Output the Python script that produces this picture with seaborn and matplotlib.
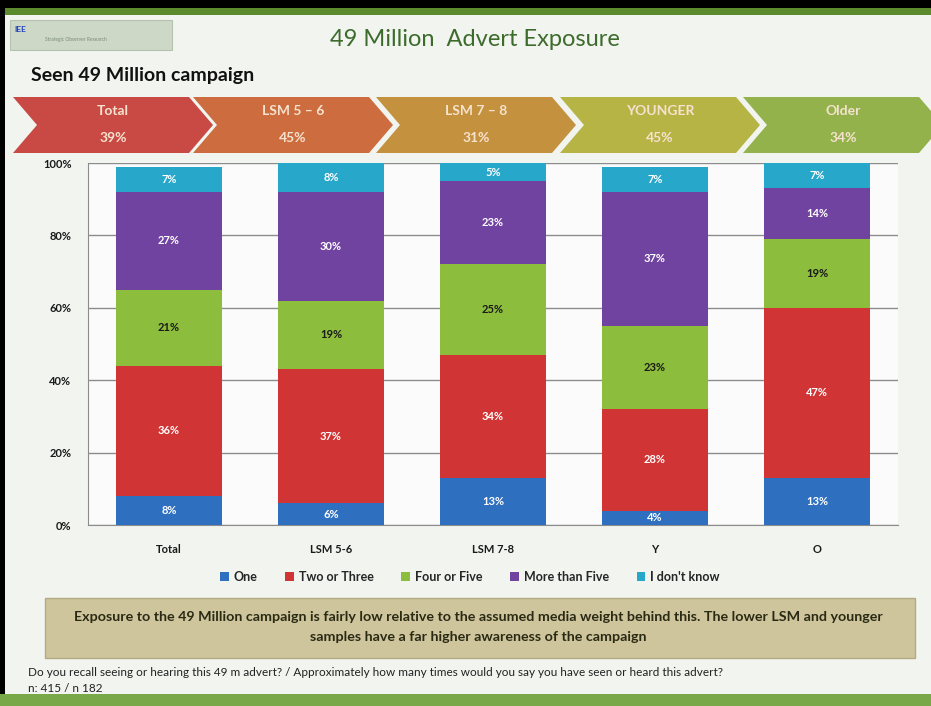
import numpy as np
import pandas as pd
import matplotlib.pyplot as plt
from matplotlib.patches import Polygon, Rectangle, Patch
import seaborn as sns

# data
groups = ['Total', 'LSM 5-6', 'LSM 7-8', 'Y', 'O']
series = ['One', 'Two or Three', 'Four or Five', 'More than Five', "I don't know"]
one = [8, 6, 13, 4, 13]
two_three = [36, 37, 34, 28, 47]
four_five = [21, 19, 25, 23, 19]
more_five = [27, 30, 23, 37, 14]
dont_know = [7, 8, 5, 7, 7]

header_labels = ['Total', 'LSM 5 – 6', 'LSM 7 – 8', 'YOUNGER', 'Older']
header_pct = ['39%', '45%', '31%', '45%', '34%']

colors = ['#2e6fc0', '#d13434', '#8cbd3c', '#7143a0', '#27a7c9']
label_colors = ['white', 'white', '#1a1a1a', 'white', 'white']
chevron_colors = ['#c94a45', '#cd6d3f', '#c4913f', '#b6b445', '#93b24b']

sns.set_style('white')
plt.rcParams['font.family'] = ['Lato', 'DejaVu Sans']

df = pd.DataFrame(dict(zip(series, [one, two_three, four_five, more_five, dont_know])), index=groups)
cum = df.cumsum(axis=1)
long = df.reset_index(names='group').melt(id_vars='group', var_name='series', value_name='value')
long['top'] = cum.reset_index(names='group').melt(id_vars='group', value_name='top')['top']
long['bottom'] = long['top'] - long['value']

W, H = 931, 706
fig = plt.figure(figsize=(W / 100, H / 100), dpi=100, facecolor='#f2f4f0')

# background layer in pixel coordinates
bg = fig.add_axes([0, 0, 1, 1], zorder=0)
bg.set_xlim(0, W)
bg.set_ylim(H, 0)
bg.axis('off')
bg.add_patch(Rectangle((0, 0), W, 8, fc='black', ec='none'))
bg.add_patch(Rectangle((0, 8), W, 7, fc='#5b8b2c', ec='none'))
bg.add_patch(Rectangle((0, 0), 5, H, fc='black', ec='none'))
bg.add_patch(Rectangle((0, 694), W, 12, fc='#78a847', ec='none'))
bg.add_patch(Rectangle((10, 20), 162, 30, fc='#cdd8c6', ec='#b5c2ad', lw=0.8))
bg.text(14, 29, 'IEE', color='#2040c0', fontsize=6, fontweight='bold', va='center')
bg.text(45, 40, 'Strategic Observer Research', color='#7a8a78', fontsize=3.5, va='center')

bg.text(475, 40, '49 Million  Advert Exposure', color='#3d6b2c', fontsize=17,
        ha='center', va='center')
bg.text(31, 75, 'Seen 49 Million campaign', color='#111111', fontsize=14,
        fontweight='bold', va='center')

# chevron header
starts = [13, 193, 376, 560, 743]
w, d, y0, y1 = 176, 24, 97, 153
ym = (y0 + y1) / 2
for x0, c, lab, pct in zip(starts, chevron_colors, header_labels, header_pct):
    pts = [(x0, y0), (x0 + w, y0), (x0 + w + d, ym), (x0 + w, y1), (x0, y1), (x0 + d, ym)]
    bg.add_patch(Polygon(pts, closed=True, fc=c, ec='none'))
    cx = x0 + d / 2 + w / 2
    bg.text(cx, 111, lab, color='#f6e2cf', fontsize=10, fontweight='bold', ha='center', va='center')
    bg.text(cx, 138, pct, color='#f6e2cf', fontsize=10, fontweight='bold', ha='center', va='center')

# stacked bar chart
ax = fig.add_axes([88 / W, 1 - 525 / H, 810 / W, 362 / H], zorder=2)
ax.set_facecolor('#fbfbfb')
for s, c in list(zip(series, colors))[::-1]:
    sub = long[long['series'] == s]
    sns.barplot(data=sub, x='group', y='top', order=groups, color=c, saturation=1,
                width=0.66, errorbar=None, linewidth=0, ax=ax, zorder=3)

for s, tc in zip(series, label_colors):
    sub = long[long['series'] == s]
    for _, r in sub.iterrows():
        ax.text(groups.index(r['group']), r['bottom'] + r['value'] / 2, f"{r['value']}%",
                color=tc, fontsize=8, fontweight='bold', ha='center', va='center', zorder=4)

ax.set_xlim(-0.5, len(groups) - 0.5)
ax.set_ylim(0, 100)
ax.set_yticks(range(0, 101, 20))
ax.set_yticklabels([f'{v}%' for v in range(0, 101, 20)])
ax.set_xticks(np.arange(len(groups) + 1) - 0.5, minor=True)
ax.yaxis.grid(True, color='#8c8c8c', lw=1, zorder=0)
ax.set_axisbelow(True)
ax.set_xlabel('')
ax.set_ylabel('')
for side in ['top', 'right']:
    ax.spines[side].set_visible(False)
for side in ['left', 'bottom']:
    ax.spines[side].set_color('#8c8c8c')
ax.tick_params(axis='x', which='major', length=0, pad=14, labelsize=8, colors='#1a1a1a')
ax.tick_params(axis='x', which='minor', length=4, color='#8c8c8c', direction='out')
ax.tick_params(axis='y', length=4, color='#8c8c8c', direction='out', labelsize=8,
               colors='#1a1a1a', pad=8)
for t in ax.get_xticklabels() + ax.get_yticklabels():
    t.set_fontweight('bold')

handles = [Patch(fc=c, ec='none', label=s) for s, c in zip(series, colors)]
fig.legend(handles=handles, loc='center', bbox_to_anchor=(470 / W, 1 - 577 / H), ncol=5,
           frameon=False, handlelength=0.7, handleheight=0.7, handletextpad=0.4,
           columnspacing=2.2, prop={'size': 9, 'weight': 'bold'})

# summary box and footer
bg.add_patch(Rectangle((45, 598), 870, 60, fc='#cfc59d', ec='#b3a983', lw=1))
bg.text(478, 617, 'Exposure to the 49 Million campaign is fairly low relative to the assumed media '
        'weight behind this. The lower LSM and younger', color='#2a2a14', fontsize=10.3,
        fontweight='bold', ha='center', va='center')
bg.text(478, 637, 'samples have a far higher awareness of the campaign', color='#2a2a14',
        fontsize=10.3, fontweight='bold', ha='center', va='center')
bg.text(28, 672, 'Do you recall seeing or hearing this 49 m advert? / Approximately how many times '
        'would you say you have seen or heard this advert?', color='#222222', fontsize=8.5,
        va='center')
bg.text(28, 688, 'n: 415 / n 182', color='#222222', fontsize=8.5, va='center')

fig.savefig('out.png', dpi=100, facecolor=fig.get_facecolor())
